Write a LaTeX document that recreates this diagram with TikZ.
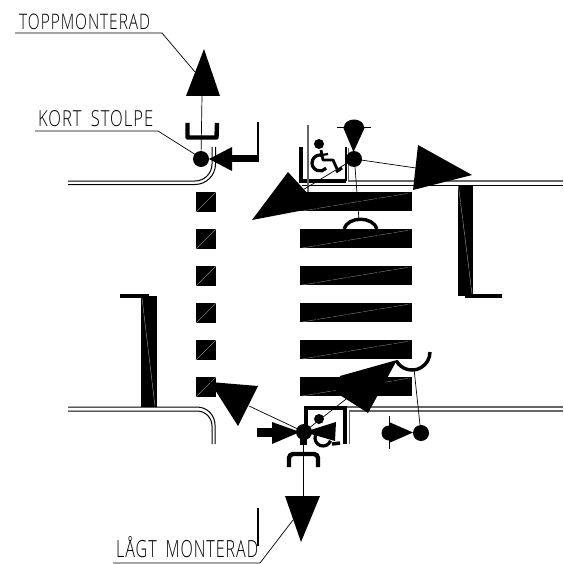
\documentclass[tikz,border=0pt]{standalone}
\usepackage{fontspec}
\setmainfont{Liberation Sans}
\newfontfamily\cadfont[LetterSpace=6]{Open Sans Light}
\tikzset{
  x=1pt,y=-1pt,
  fillk/.style={fill=black,draw=none},
  kerb/.style={draw=black,line width=1pt},
  kerbg/.style={draw=black!60,line width=1.4pt},
  thin leader/.style={draw=black,line width=0.7pt},
  thick part/.style={draw=black,line width=4.4pt},
  hatch/.style={draw=black!45,line width=0.4pt,dash pattern=on 14pt off 1.5pt},
  cadtext/.style={inner sep=0pt,anchor=south west}
}
\newcommand{\cadtxt}[3]{\resizebox{#1pt}{#2pt}{\cadfont #3}}
\begin{document}
\begin{tikzpicture}
\useasboundingbox (0,0) rectangle (563,564);
\fill[white] (0,0) rectangle (563,564);
% kerbs
\draw[kerb] (68,181) -- (195,181) arc[start angle=90,end angle=0,radius=17] -- (212,147);
\draw[kerb] (68,184.5) -- (195,184.5) arc[start angle=90,end angle=0,radius=20.5] -- (215.5,147);
\draw[kerbg] (348.5,148) -- (348.5,181) -- (563,181);
\draw[kerb] (302,185) -- (563,185);
\draw[kerb] (68,407) -- (197,407) arc[start angle=-90,end angle=0,radius=18] -- (215,444);
\draw[kerb] (68,411) -- (197,411) arc[start angle=-90,end angle=0,radius=15] -- (212,444);
\draw[kerbg] (347,407) -- (563,407);
\draw[kerbg] (349.5,444) -- (349.5,411) -- (563,411);
% left squares
\foreach \yy in {192,229,266,303,340,377}{
  \fill (196,\yy) rectangle (216,\yy+20);
  \draw[black!50,line width=0.4pt] (196,\yy+20) -- (216,\yy);
}
% bars
\foreach \yy in {192,229,266,303,340,377}{
  \fill (300,\yy) rectangle (412,\yy+19);
  \draw[hatch] (302,\yy+19) -- (410,\yy+1);
}
% top-left sign
\draw[thin leader] (15,33) -- (162,33) -- (195,72);
\node[cadtext] (topp) at (19,29.5) {\cadtxt{131}{15.5}{TOPPMONTERAD}};
\path[fillk] (204,49) -- (220,96) -- (186,96) -- cycle;
\draw[thin leader] (202,96) -- (201,158);
\draw[thick part,line join=round] (187.5,123) -- (187.5,137.5) -- (216.5,137.5) -- (217,123);
\fill (201,159) circle[radius=8];
\draw[thin leader] (35,131) -- (158,131) -- (196,155);
\node[cadtext] (kort) at (38,127) {\cadtxt{115}{16}{KORT\hspace{0.55em}STOLPE}};
\path[fillk] (209,159) -- (232,147) -- (232,171) -- cycle;
\fill (232,155) rectangle (258,162);
\draw[line width=2pt] (257.8,162) -- (257.8,122);
% top wheelchair group
\draw[line width=4pt] (300.5,147) -- (300.5,181) -- (346,181);
\draw[line width=2pt] (345.5,181) -- (345.5,147);
\draw[black!60,line width=1.4pt] (308,125) -- (308,192);
\fill (319,144) circle[radius=5];
\draw[line width=3.2pt] (320,163) ++(-70:8) arc[start angle=-70,end angle=-320,radius=8];
\draw[line width=2.8pt,line join=round] (321,150) -- (323,160) -- (333,160) -- (338,171);
\draw[line width=2.2pt] (322,155) -- (328,154);
\draw[line width=3pt] (336,172) -- (342,168);
\fill (343,127) -- (353.5,152) -- (365,127) -- cycle;
\fill (354,127) ellipse[x radius=10,y radius=7.5];
\draw[line width=0.8pt] (337,127) -- (371,127);
\fill (354,159) circle[radius=8];
\draw[thin leader] (354,159) -- (301,191);
\draw[thin leader] (354,159) -- (416,168);
\draw[thin leader] (355,167) -- (359,220);
\path[fillk] (252,220) -- (288,172) -- (320,207) -- cycle;
\path[fillk] (418,145) -- (472,175) -- (413,190) -- cycle;
\draw[line width=3.4pt] (344,229) .. controls (348,216) and (373,216) .. (377,229);
% right sign
\fill (458,185) rectangle (473,296);
\draw[black!45,line width=0.5pt,dash pattern=on 16pt off 1pt] (458.5,186) -- (472,294);
\draw[line width=3.4pt] (465,296) -- (502,296);
% left sign
\fill (141,296) rectangle (157,407);
\draw[black!45,line width=0.5pt,dash pattern=on 16pt off 1pt] (142,298) -- (155,406);
\draw[line width=3.4pt] (120,296) -- (149,296);
% lower-left big arrow
\path[fillk] (210,382) -- (258,386) -- (238,426) -- cycle;
\draw[thin leader] (249,406) -- (300,430);
% lower group
\draw[line width=3.4pt] (306,428) -- (306,408) -- (345,408) -- (345,444);
\fill (257,428) rectangle (273,437);
\path[fillk] (272,422) -- (300,432) -- (272,444) -- cycle;
\fill (304,432) circle[radius=8];
\fill (300,432) rectangle (307,445);
\fill (319,419) circle[radius=5];
\path[fillk] (304,432) -- (336,422) -- (335,441) -- cycle;
\draw[line width=3.2pt] (323,438) ++(-160:8) arc[start angle=-160,end angle=-340,radius=8];
\draw[line width=3.4pt] (332,444) -- (340,443);
\draw[thin leader] (304,432) -- (350,396);
\path[fillk] (397,360) -- (340,376) -- (335,392) -- (368,413) -- cycle;
\draw[line width=3.4pt] (412,352) ++(150:18) arc[start angle=150,end angle=0,radius=18];
\draw[thin leader] (414,369) -- (420,425);
\fill (421,433) circle[radius=8];
\path[fillk] (389,422) -- (413,432.5) -- (389,443) -- cycle;
\fill (389,433) ++(90:7.5) arc[start angle=90,end angle=270,radius=7.5] -- cycle;
\draw[line width=0.8pt] (389,416) -- (389,449);
% bottom sign
\draw[line width=4.4pt,line join=round,rounded corners=4pt] (289,467) -- (289,454) -- (318,454) -- (318,467);
\draw[thin leader] (303,445) -- (303,497);
\path[fillk] (285,496) -- (320,496) -- (301,542) -- cycle;
\draw[line width=2pt] (257.8,508) -- (257.8,546);
\draw[thin leader] (113,563) -- (260,563) -- (293,520);
\node[cadtext] (lagt) at (116,558) {\cadtxt{142}{21}{LÅGT\hspace{0.55em}MONTERAD}};
\end{tikzpicture}
\end{document}
